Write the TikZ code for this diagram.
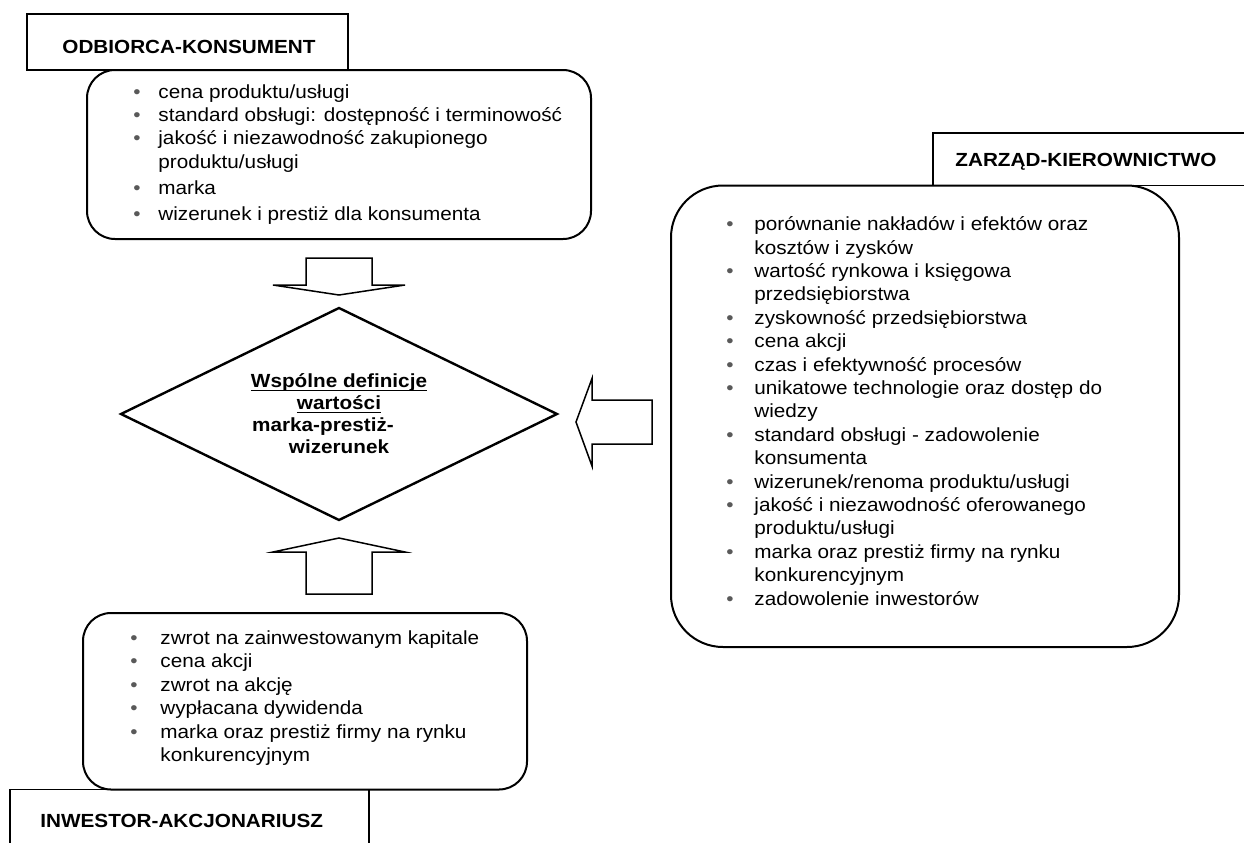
\documentclass[tikz,border=0pt]{standalone}
\usepackage{fontspec}
\setmainfont{Liberation Sans}[FakeStretch=1.09]
\usepackage{tikz}
\usetikzlibrary{shapes.geometric}
\usetikzlibrary{calc}
\usepackage{xcolor}
\definecolor{kropka}{rgb}{0.35,0.35,0.35}
\newlength{\wcieg}
\newcommand{\pkt}{\makebox[\wcieg][l]{\textcolor{kropka}{\textbullet}}}
\newcommand{\dal}{\hspace*{\wcieg}}
\newcommand{\podkr}[1]{\leavevmode\setbox0=\hbox{#1}\rlap{\rule[-1.5pt]{\wd0}{0.6pt}}\box0}
\tikzset{
  tytul/.style={draw, line width=0.75pt, rectangle, inner sep=0pt, outer sep=0pt},
  napis/.style={inner sep=0pt, anchor=base west, font=\fontsize{9.5}{11.7}\selectfont\bfseries},
  ramka/.style={draw, line width=1pt, rectangle, inner sep=0pt, outer sep=0pt},
  lista/.style={inner sep=0pt, anchor=west, font=\fontsize{9.5}{11.7}\selectfont},
  romb/.style={draw, line width=1.2pt, diamond, aspect=2, inner sep=1pt, outer sep=0pt,
    align=center, font=\fontsize{9.5}{11}\selectfont\bfseries},
  blok/.style={draw, line width=0.75pt, line join=miter},
}

\begin{document}
\begin{tikzpicture}[x=0.5pt, y=-0.5pt]

%%%%%%%%%%%%%%%%%%%%%%%%%%%%%%%%%%%%%%%%%%%%%%%%%%%%%%%%%%%%%% Setup
\fill[white] (0,0) rectangle (1244,842);
\useasboundingbox (0,0) rectangle (1244,842);
\clip (0,0) rectangle (1244,842);

%%%%%%%%%%%%%%%%%%%%%%%%%%%%%%%%%%%%%%%%%%%%%%%%%%%%%%%%%%%%%% Odbiorca
\node[tytul, minimum width=160.5pt, minimum height=28pt] (odb) at (187.5,42) {};
\node[napis] (odbtxt) at (62,53) {ODBIORCA-KONSUMENT};

\node[ramka, rounded corners=14pt, minimum width=252pt, minimum height=84.5pt] (odbbox) at (339,154.5) {};
\node[lista] (odblist) at ([xshift=23pt]odbbox.west) {\setlength{\wcieg}{12.5pt}%
\begin{tabular}{@{}l@{}}
\pkt cena produktu/usługi\\
\pkt standard obsługi: dostępność i terminowość\\
\pkt jakość i niezawodność zakupionego\\
\dal produktu/usługi\\[1.3pt]
\pkt marka\\[1.3pt]
\pkt wizerunek i prestiż dla konsumenta
\end{tabular}};

%%%%%%%%%%%%%%%%%%%%%%%%%%%%%%%%%%%%%%%%%%%%%%%%%%%%%%%%%%%%%% Zarzad
\node[tytul, minimum width=164.5pt, minimum height=26.25pt] (zarz) at (1097.5,159.25) {};
\node[napis] (zarztxt) at (955,166.5) {ZARZĄD-KIEROWNICTWO};

\node[ramka, rounded corners=26pt, minimum width=254pt, minimum height=230.75pt] (zarzbox) at (925,416.25) {};
\node[lista] (zarzlist) at ([xshift=27.5pt, yshift=1.5pt]zarzbox.west) {\setlength{\wcieg}{14pt}%
\begin{tabular}{@{}l@{}}
\pkt porównanie nakładów i efektów oraz\\
\dal kosztów i zysków\\
\pkt wartość rynkowa i księgowa\\
\dal przedsiębiorstwa\\
\pkt zyskowność przedsiębiorstwa\\
\pkt cena akcji\\
\pkt czas i efektywność procesów\\
\pkt unikatowe technologie oraz dostęp do\\
\dal wiedzy\\
\pkt standard obsługi - zadowolenie\\
\dal konsumenta\\
\pkt wizerunek/renoma produktu/usługi\\
\pkt jakość i niezawodność oferowanego\\
\dal produktu/usługi\\
\pkt marka oraz prestiż firmy na rynku\\
\dal konkurencyjnym\\
\pkt zadowolenie inwestorów
\end{tabular}};

%%%%%%%%%%%%%%%%%%%%%%%%%%%%%%%%%%%%%%%%%%%%%%%%%%%%%%%%%%%%%% Inwestor
\node[ramka, rounded corners=14pt, minimum width=222pt, minimum height=88.25pt] (inwbox) at (305,701.25) {};
\node[lista] (inwlist) at ([xshift=23.5pt, yshift=1.5pt]inwbox.west) {\setlength{\wcieg}{15pt}%
\begin{tabular}{@{}l@{}}
\pkt zwrot na zainwestowanym kapitale\\
\pkt cena akcji\\
\pkt zwrot na akcję\\
\pkt wypłacana dywidenda\\
\pkt marka oraz prestiż firmy na rynku\\
\dal konkurencyjnym
\end{tabular}};

\node[tytul, minimum width=179.5pt, minimum height=41.25pt] (inw) at (189.5,830.75) {};
\node[napis] (inwtxt) at (40,827) {INWESTOR-AKCJONARIUSZ};

%%%%%%%%%%%%%%%%%%%%%%%%%%%%%%%%%%%%%%%%%%%%%%%%%%%%%%%%%%%%%% Wartosc
\node[romb, minimum width=218pt, minimum height=106pt] (wart) at (339,414)
  {\podkr{Wspólne definicje}\\ \podkr{wartości}\\ marka-prestiż-\kern16pt\relax\\ wizerunek};

% strzalki
\coordinate (gora) at ($(wart.north)+(0,-13)$);
\coordinate (dol) at ($(wart.south)+(0,18)$);
\coordinate (bok) at ($(wart.east)+(19,8)$);

\draw[blok] (gora) -- ++(-66,-10) -- ++(33,0) -- ++(0,-27) -- ++(66,0) -- ++(0,27) -- ++(33,0) -- cycle;
\draw[blok] (dol) -- ++(-66,14) -- ++(33,0) -- ++(0,42) -- ++(66,0) -- ++(0,-42) -- ++(33,0) -- cycle;
\draw[blok] (bok) -- ++(16,-43.5) -- ++(0,21.5) -- ++(60,0) -- ++(0,44) -- ++(-60,0) -- ++(0,22) -- cycle;

\end{tikzpicture}
\end{document}
